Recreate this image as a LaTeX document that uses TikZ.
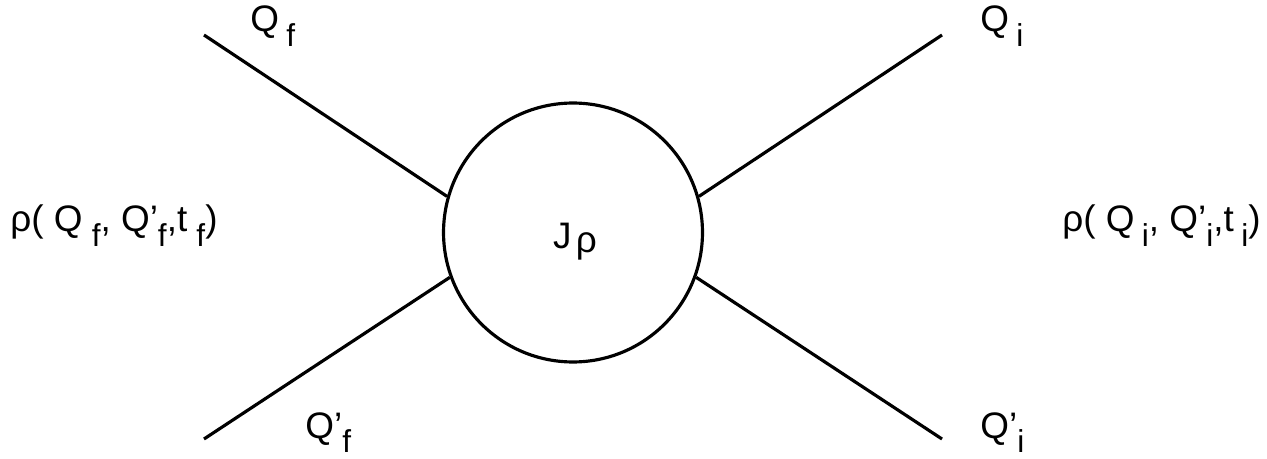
\documentclass[tikz,border=0pt]{standalone}
\usepackage{fontspec}
\setmainfont{Liberation Sans}
\newcommand{\lo}[1]{\raisebox{-0.38em}{\fontsize{18pt}{18pt}\selectfont #1}}

\begin{document}
\begin{tikzpicture}[x=0.02cm,y=-0.02cm,
  blob/.style={circle,draw,line width=1.8pt,minimum size=5.18cm,inner sep=0pt},
  leg/.style={line width=1.8pt},
  lbl/.style={anchor=base west,inner sep=0pt,font=\fontsize{21pt}{21pt}\selectfont}]
  \useasboundingbox (0,0) rectangle (1267,459);

  \node[blob](blob) at (573,232.5){};
  \node[lbl,anchor=base](jrho) at (575,249){J\hspace{.12em}\raisebox{-0.1em}{ρ}};

  \coordinate (qf) at (204,35);
  \coordinate (qfp) at (204,439);
  \coordinate (qi) at (942,35);
  \coordinate (qip) at (942,439);

  \path[leg]
  (qf) edge (blob.164)
  (qfp) edge (blob.200)
  (qi) edge (blob.16)
  (qip) edge (blob.-20);

  \node[lbl](Qf) at (250,32){Q\hspace{.2em}\lo{f}};
  \node[lbl](Qfp) at (305,438){Q’\lo{f}};
  \node[lbl](Qi) at (980,32){Q\hspace{.2em}\lo{i}};
  \node[lbl](Qip) at (980,438){Q’\lo{i}};
  \node[lbl](rhof) at (10,232){ρ( Q\hspace{.25em}\lo{f}, Q’\lo{f},t\hspace{.25em}\lo{f})};
  \node[lbl](rhoi) at (1062,232){ρ( Q\hspace{.2em}\lo{i}, Q’\lo{i},t\hspace{.2em}\lo{i})};
\end{tikzpicture}
\end{document}
